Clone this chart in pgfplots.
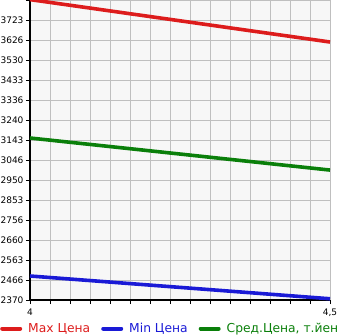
\documentclass[border=0pt]{standalone}
\usepackage{pgfplots}
\pgfplotsset{compat=1.18}
\usepackage{fontspec}
\setmainfont{DejaVu Sans}
\definecolor{cmax}{HTML}{DD1C1C}
\definecolor{cmin}{HTML}{1A1AD6}
\definecolor{cavg}{HTML}{0A7F0A}
\begin{document}
\begin{tikzpicture}
\path[use as bounding box] (-30pt,-35pt) rectangle (315pt,300pt);
\begin{axis}[
  at={(0pt,0pt)}, anchor=south west,
  scale only axis, width=300pt, height=300pt,
  xmin=4, xmax=4.5, ymin=2370, ymax=3820,
  axis x line*=bottom, axis y line*=left,
  axis line style={line width=1.6pt, black, -},
  axis background/.style={fill=black!3},
  xtick={4,4.5}, xticklabels={4,{4,5}},
  minor xtick={4.0333333,4.0666667,4.1,4.1333333,4.1666667,4.2,4.2333333,4.2666667,4.3,4.3333333,4.3666667,4.4,4.4333333,4.4666667},
  ytick={2370,2466.667,2563.333,2660,2756.667,2853.333,2950,3046.667,3143.333,3240,3336.667,3433.333,3530,3626.667,3723.333,3820},
  yticklabels={2370,2466,2563,2660,2756,2853,2950,3046,3143,3240,3336,3433,3530,3626,3723,},
  grid=both,
  major grid style={line width=0.8pt, black!25},
  minor grid style={line width=0.8pt, black!25},
  tick style={line width=0.8pt, black},
  tick align=outside,
  major tick length=4pt, minor tick length=4pt,
  ticklabel style={font=\fontsize{9}{10}\selectfont},
  xticklabel style={yshift=-1pt},
  yticklabel style={xshift=1pt},
  /pgf/number format/assume math mode=true,
  clip=false,
  legend columns=3,
  legend cell align=left,
  legend style={at={(-0.1,-0.095)}, anchor=west, draw=none, fill=none,
    inner xsep=0pt,
    font=\fontsize{12.3}{13}\selectfont,
    nodes={inner xsep=2pt},
    /tikz/every odd column/.append style={column sep=4pt},
    /tikz/every even column/.append style={column sep=9pt}},
  legend image code/.code={\draw[#1, line width=4pt, line cap=round] (2pt,0pt) -- (20pt,0pt);},
]
\addplot[cmax, line width=3.6pt] coordinates {(4,3822) (4.5,3617)};
\addlegendentry{\textcolor{cmax}{Max Цена}}
\addplot[cmin, line width=3.6pt] coordinates {(4,2486) (4.5,2376)};
\addlegendentry{\textcolor{cmin}{Min Цена}}
\addplot[cavg, line width=3.6pt] coordinates {(4,3153) (4.5,2998)};
\addlegendentry{\textcolor{cavg}{Сред.Цена, т.йен}}
\end{axis}
\end{tikzpicture}
\end{document}
